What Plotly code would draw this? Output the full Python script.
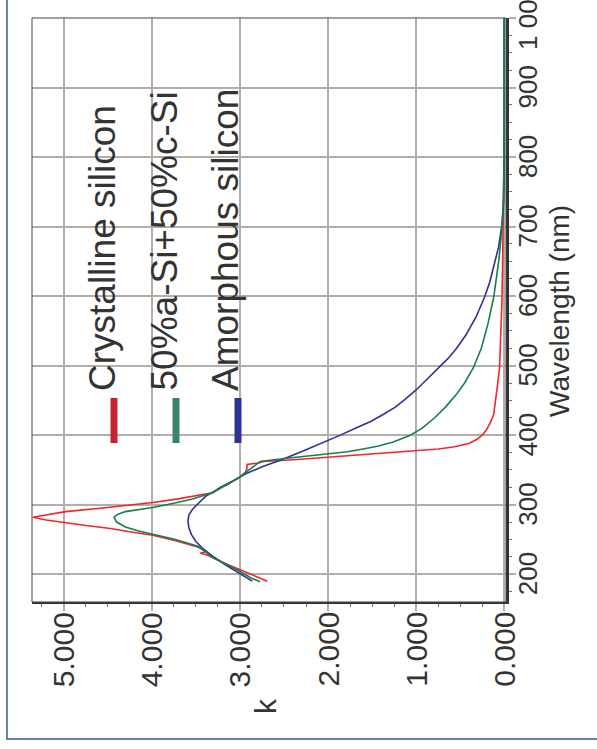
import plotly.graph_objects as go

# Extinction coefficient k of silicon films versus wavelength (nm)
wl_crystalline = [190, 200, 207, 215, 224, 228, 230, 232, 234, 239, 248, 256, 261, 266,
                  270, 274, 278, 282, 286, 290, 296, 303, 308, 312, 317, 325, 329, 339,
                  346, 352, 358, 360, 362, 365, 368, 371, 374, 377, 380, 383, 388, 394,
                  400, 408, 420, 430, 450, 468, 497, 550, 593, 650, 700, 750, 780]
k_crystalline = [2.69, 2.88, 3.01, 3.16, 3.31, 3.38, 3.45, 3.40, 3.40, 3.48, 3.73, 3.99, 4.25, 4.49,
                 4.75, 4.98, 5.20, 5.35, 5.18, 4.98, 4.50, 3.99, 3.72, 3.54, 3.31, 3.22, 3.14, 3.01,
                 2.94, 2.92, 2.92, 2.79, 2.73, 2.35, 2.03, 1.65, 1.28, 0.99, 0.75, 0.58, 0.40, 0.31,
                 0.25, 0.20, 0.15, 0.12, 0.095, 0.08, 0.053, 0.035, 0.026, 0.018, 0.012, 0.008, 0.005]

wl_mixed = [189, 195, 205, 215, 224, 232, 240, 250, 257, 262, 268, 275, 282, 286, 290,
            296, 302, 308, 317, 329, 339, 348, 355, 362, 366, 370, 373, 376, 380, 384,
            390, 399, 410, 425, 440, 459, 475, 497, 525, 560, 598, 625, 651, 675, 699,
            737, 780, 850, 1000]
k_mixed = [2.77, 2.88, 3.01, 3.16, 3.31, 3.39, 3.47, 3.73, 3.99, 4.15, 4.30, 4.40, 4.43, 4.39, 4.30,
           3.99, 3.75, 3.54, 3.31, 3.14, 3.01, 2.92, 2.85, 2.77, 2.52, 2.20, 1.98, 1.78, 1.60, 1.44,
           1.26, 1.08, 0.93, 0.79, 0.67, 0.54, 0.45, 0.35, 0.26, 0.185, 0.12, 0.088, 0.062, 0.043, 0.026,
           0.008, 0.002, 0.0, 0.0]

wl_amorphous = [190, 196, 202, 214, 226, 238, 247, 257, 267, 277, 285, 293, 302, 312, 320,
                329, 336, 344, 355, 365, 378, 389, 400, 410, 420, 430, 440, 450, 465, 480,
                495, 510, 525, 545, 570, 598, 620, 641, 670, 703, 730, 760, 800, 1000]
k_amorphous = [2.86, 2.94, 3.01, 3.17, 3.31, 3.43, 3.50, 3.55, 3.58, 3.59, 3.58, 3.54, 3.47, 3.39, 3.28,
               3.16, 3.05, 2.94, 2.74, 2.52, 2.27, 2.06, 1.86, 1.69, 1.51, 1.37, 1.24, 1.14, 1.00, 0.88,
               0.76, 0.64, 0.54, 0.43, 0.32, 0.225, 0.165, 0.12, 0.065, 0.026, 0.01, 0.003, 0.0, 0.0]

series_names = ["Crystalline silicon", "50%a-Si+50%c-Si", "Amorphous silicon"]
line_colors = ["#f2262c", "#13804c", "#2f2f9e"]
key_colors = ["#c9212e", "#3a8172", "#2c3391"]

k_ticks = [0, 1, 2, 3, 4, 5]
k_ticktext = ["0.000", "1.000", "2.000", "3.000", "4.000", "5.000"]
wl_ticks = [200, 300, 400, 500, 600, 700, 800, 900, 1000]
wl_ticktext = ["200", "300", "400", "500", "600", "700", "800", "900", "1 000"]

W, H = 597, 749
L, R, T, B = 32, 506, 18, 602  # plot area in pixels


def px(x):
    return (x - L) / (R - L)


def py(y):
    return (B - y) / (B - T)


fig = go.Figure()
data = [(wl_crystalline, k_crystalline), (wl_amorphous, k_amorphous), (wl_mixed, k_mixed)]
order = [0, 2, 1]
for (wl, k), idx in zip(data, order):
    fig.add_trace(go.Scatter(x=k, y=wl, mode="lines", name=series_names[idx],
                             line=dict(color=line_colors[idx], width=1.6),
                             showlegend=False))

font = "Liberation Sans, Arial, sans-serif"
grid = "#b5adaa"
ink = "#333333"

fig.update_layout(
    width=W, height=H,
    margin=dict(l=L, r=W - R, t=T, b=H - B),
    paper_bgcolor="white", plot_bgcolor="white",
    font=dict(family=font, color=ink),
    xaxis=dict(
        range=[5.36, -0.02], tickvals=k_ticks, showticklabels=False,
        showgrid=True, gridcolor=grid, gridwidth=1.5,
        ticks="outside", ticklen=7, tickcolor=grid, tickwidth=1.5,
        minor=dict(dtick=0.25, tick0=0, ticks="outside", ticklen=3,
                   tickcolor="#777777", tickwidth=1, showgrid=False),
        showline=True, linecolor=ink, linewidth=2, mirror=False,
        zeroline=False,
    ),
    yaxis=dict(
        range=[160, 1000], side="right", tickvals=wl_ticks, showticklabels=False,
        showgrid=True, gridcolor=grid, gridwidth=1.5,
        ticks="outside", ticklen=7, tickcolor=grid, tickwidth=1.5,
        minor=dict(dtick=25, tick0=0, ticks="outside", ticklen=3,
                   tickcolor="#777777", tickwidth=1, showgrid=False),
        showline=True, linecolor=ink, linewidth=2.5, mirror=False,
        zeroline=False,
    ),
)

shapes = [
    # thin frame on the left and top of the plot area
    dict(type="rect", xref="paper", yref="paper", x0=0, x1=1, y0=0, y1=1,
         line=dict(color="#444444", width=1), layer="above"),
    # outer border of the figure panel
    dict(type="rect", xref="paper", yref="paper",
         x0=px(7), x1=px(640), y0=py(739), y1=py(-30),
         line=dict(color="#5d86b3", width=2)),
]

annotations = []

# rotated tick labels placed on the axis scales
for val, txt in zip(k_ticks, k_ticktext):
    annotations.append(dict(text=txt, xref="x", yref="paper", x=val, y=py(610),
                            xanchor="center", yanchor="top", textangle=-90, showarrow=False,
                            font=dict(size=30, color=ink, family=font)))
for val, txt in zip(wl_ticks, wl_ticktext):
    annotations.append(dict(text=txt, xref="paper", yref="y", x=px(528), y=val,
                            xanchor="center", yanchor="middle", textangle=-90, showarrow=False,
                            font=dict(size=26, color=ink, family=font)))

# key: short coloured bars with rotated labels
bar_x = [114, 176, 238]
label_x = [102, 164, 225]
for i in range(3):
    shapes.append(dict(type="line", xref="paper", yref="paper",
                       x0=px(bar_x[i]), x1=px(bar_x[i]), y0=py(443), y1=py(398),
                       line=dict(color=key_colors[i], width=7)))
    annotations.append(dict(text=series_names[i], xref="paper", yref="paper",
                            x=px(label_x[i]), y=py(393), xanchor="center", yanchor="bottom",
                            textangle=-90, showarrow=False,
                            font=dict(size=37, color=ink, family=font)))

annotations.append(dict(text="k", xref="paper", yref="paper", x=px(265), y=py(706),
                        xanchor="center", yanchor="middle", textangle=-90, showarrow=False,
                        font=dict(size=30, color=ink, family=font)))
annotations.append(dict(text="Wavelength (nm)", xref="paper", yref="paper", x=px(559), y=py(311),
                        xanchor="center", yanchor="middle", textangle=-90, showarrow=False,
                        font=dict(size=28, color=ink, family=font)))

fig.update_layout(shapes=shapes, annotations=annotations)
fig.write_html("out.html")
